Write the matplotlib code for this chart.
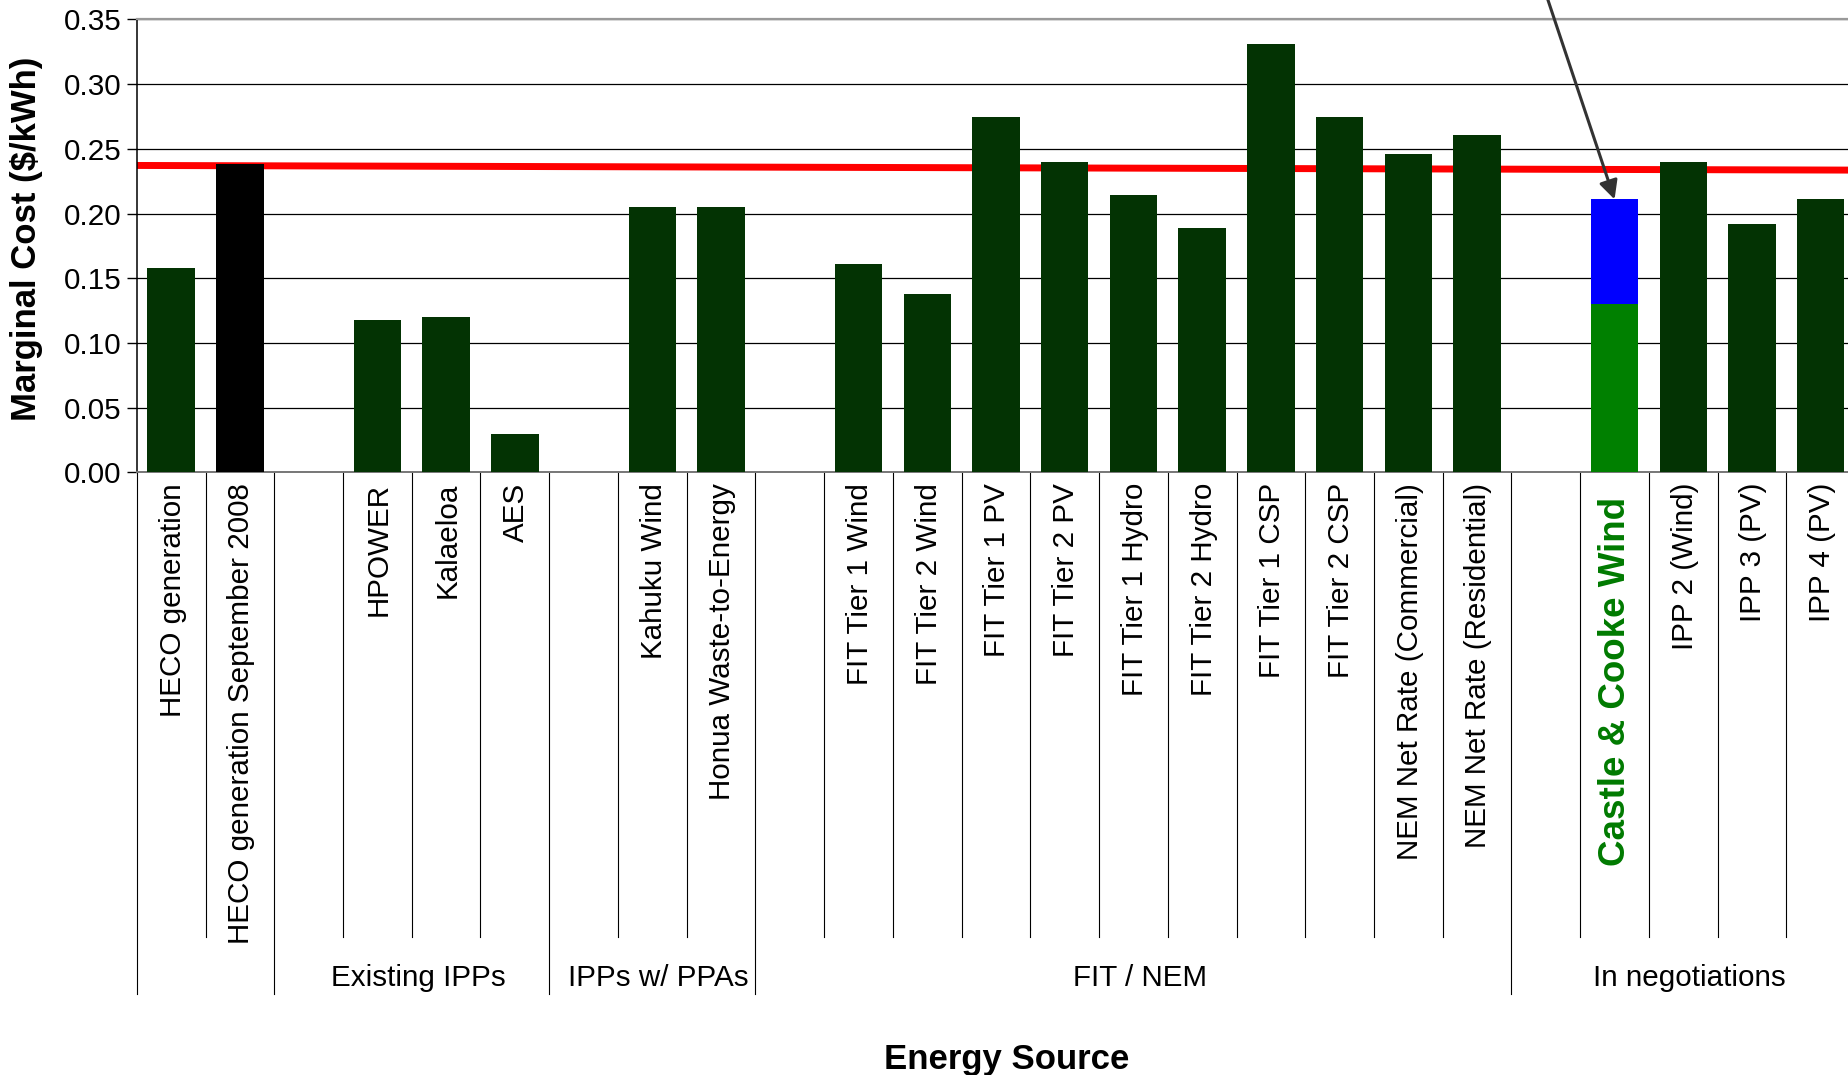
import numpy as np
import matplotlib
matplotlib.use("Agg")
import matplotlib.pyplot as plt
import matplotlib.transforms as mtransforms

plt.rcParams['font.family'] = ['Liberation Sans', 'DejaVu Sans']

# ---------------- data ----------------
labels = ['HECO generation', 'HECO generation September 2008', '',
          'HPOWER', 'Kalaeloa', 'AES', '',
          'Kahuku Wind', 'Honua Waste-to-Energy', '',
          'FIT Tier 1 Wind', 'FIT Tier 2 Wind', 'FIT Tier 1 PV', 'FIT Tier 2 PV',
          'FIT Tier 1 Hydro', 'FIT Tier 2 Hydro', 'FIT Tier 1 CSP', 'FIT Tier 2 CSP',
          'NEM Net Rate (Commercial)', 'NEM Net Rate (Residential)', '',
          'Castle & Cooke Wind', 'IPP 2 (Wind)', 'IPP 3 (PV)', 'IPP 4 (PV)']
nan = np.nan
costs = [0.158, 0.238, nan,
         0.118, 0.120, 0.030, nan,
         0.205, 0.205, nan,
         0.161, 0.138, 0.275, 0.240, 0.214, 0.189, 0.331, 0.275, 0.246, 0.261, nan,
         0.130, 0.240, 0.192, 0.211]
castle_extra = 0.081          # blue segment stacked on Castle & Cooke Wind
castle_name = 'Castle & Cooke Wind'
heco_sept_name = 'HECO generation September 2008'
benchmark = [0.2372, 0.2336]  # red reference line, left end -> right end
group_names = ['', 'Existing IPPs', 'IPPs w/ PPAs', 'FIT / NEM', 'In negotiations']
group_bounds = [0, 2, 6, 9, 20, 25]   # slot boundaries between groups
yticks = [0.00, 0.05, 0.10, 0.15, 0.20, 0.25, 0.30, 0.35]

# ---------------- figure ----------------
fig = plt.figure(figsize=(18.49, 10.75), dpi=100)
ax = fig.add_axes([0.074, 0.5605, 0.9293, 0.4214])

n = len(labels)
x = np.arange(n)
dark = '#033303'
colors = []
for lab in labels:
    if lab == heco_sept_name:
        colors.append('#000000')
    elif lab == castle_name:
        colors.append('#008000')
    else:
        colors.append(dark)

bw = 0.69
ax.bar(x, costs, width=bw, color=colors, zorder=3)
ci = labels.index(castle_name)
ax.bar(ci, castle_extra, bottom=costs[ci], width=bw, color='#0000FF', zorder=3)

ax.plot([-0.5, n - 0.5], benchmark, color='#FF0000', lw=5, zorder=2,
        solid_capstyle='butt')

ax.set_xlim(-0.5, n - 0.5)
ax.set_ylim(0, 0.35)
ax.set_yticks(yticks)
ax.set_yticklabels([f'{v:.2f}' for v in yticks], fontsize=21.3)
ax.yaxis.grid(True, color='black', lw=0.9, zorder=1)
ax.set_axisbelow(True)
ax.tick_params(axis='y', length=7, width=1, pad=4, color='black')
ax.set_xticks([])

ax.spines['right'].set_visible(False)
ax.spines['top'].set_color('#999999')
ax.spines['top'].set_linewidth(1.6)
ax.spines['bottom'].set_color('#777777')
ax.spines['bottom'].set_linewidth(1.4)
ax.spines['left'].set_color('black')
ax.spines['left'].set_linewidth(1.1)

# ---------------- category axis (multi-level) ----------------
trans = mtransforms.blended_transform_factory(ax.transData, ax.transAxes)
lvl1 = -1.0254
lvl2 = -1.151
for b in range(n + 1):
    bottom = lvl2 if b in group_bounds else lvl1
    ax.plot([b - 0.5, b - 0.5], [0, bottom], transform=trans, color='black',
            lw=0.8, clip_on=False)

for i, lab in enumerate(labels):
    if not lab:
        continue
    if lab == castle_name:
        ax.text(i + 0.02, -0.054, lab, transform=trans, rotation=90, ha='center',
                va='top', fontsize=26.5, fontweight='bold', color='#007A00')
    else:
        ax.text(i + 0.02, -0.0232, lab, transform=trans, rotation=90, ha='center',
                va='top', fontsize=21.3, color='black')

for g, name in enumerate(group_names):
    if not name:
        continue
    cx = (group_bounds[g] + group_bounds[g + 1]) / 2 - 0.5 + 0.09
    ax.text(cx, -1.116, name, transform=trans, ha='center', va='center',
            fontsize=21.3, color='black')

# ---------------- arrow ----------------
ax.annotate('', xy=(ci, costs[ci] + castle_extra), xytext=(20.0, 0.37),
            xycoords='data', textcoords='data', annotation_clip=False,
            arrowprops=dict(arrowstyle='-|>', color='#333333', lw=2.2,
                            mutation_scale=28, shrinkA=0, shrinkB=0))

# ---------------- titles ----------------
fig.text(0.5446, 0.0056, 'Energy Source', ha='center', va='baseline',
         fontsize=25, fontweight='bold')
fig.text(0.0146, 0.778, 'Marginal Cost ($/kWh)', ha='center', va='center',
         rotation=90, fontsize=25, fontweight='bold')

fig.savefig('out.png', dpi=100)
